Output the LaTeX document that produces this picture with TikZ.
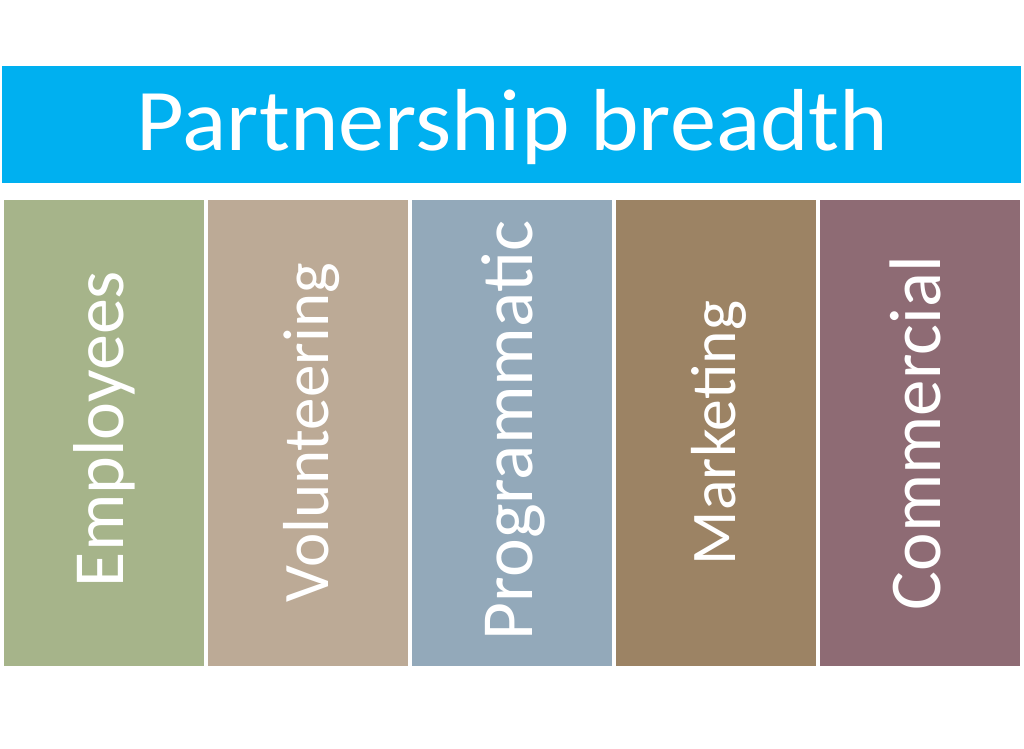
\documentclass[tikz,border=0pt]{standalone}
\usepackage{fontspec}
\setmainfont{Carlito}
\definecolor{barblue}{RGB}{0,176,240}
\definecolor{colA}{RGB}{166,180,138}
\definecolor{colB}{RGB}{188,170,150}
\definecolor{colC}{RGB}{147,169,186}
\definecolor{colD}{RGB}{156,131,100}
\definecolor{colE}{RGB}{142,107,116}
\newcommand{\fitword}[2]{\resizebox{#1pt}{!}{\fontsize{70}{80}\selectfont #2}}
\begin{document}
\begin{tikzpicture}[x=1pt,y=-1pt,
  coltext/.style={text=white,rotate=90,anchor=base,inner sep=0pt}]
\useasboundingbox (0,0) rectangle (1024,748);
\fill[white] (0,0) rectangle (1024,748);
\fill[barblue] (2,66) rectangle (1021,183);
\node[text=white,anchor=base,inner sep=0pt] (title) at (512.5,150)
  {\scalebox{1.05}[1]{\fontsize{88}{100}\selectfont Partnership breadth}};
\fill[colA] (4,200) rectangle (204,666);
\fill[colB] (208,200) rectangle (408,666);
\fill[colC] (412,200) rectangle (612,666);
\fill[colD] (616,200) rectangle (816,666);
\fill[colE] (820,200) rectangle (1020,666);
\node[coltext] (t1) at (123,429) {\fitword{316}{Employees}};
\node[coltext] (t2) at (328,432.5) {\fitword{339}{Volunteering}};
\node[coltext] (t3) at (532,430.5) {\fitword{419}{Programmatic}};
\node[coltext] (t4) at (735,433) {\fitword{264}{Marketing}};
\node[coltext] (t5) at (940,433) {\fitword{354}{Commercial}};
\end{tikzpicture}
\end{document}
